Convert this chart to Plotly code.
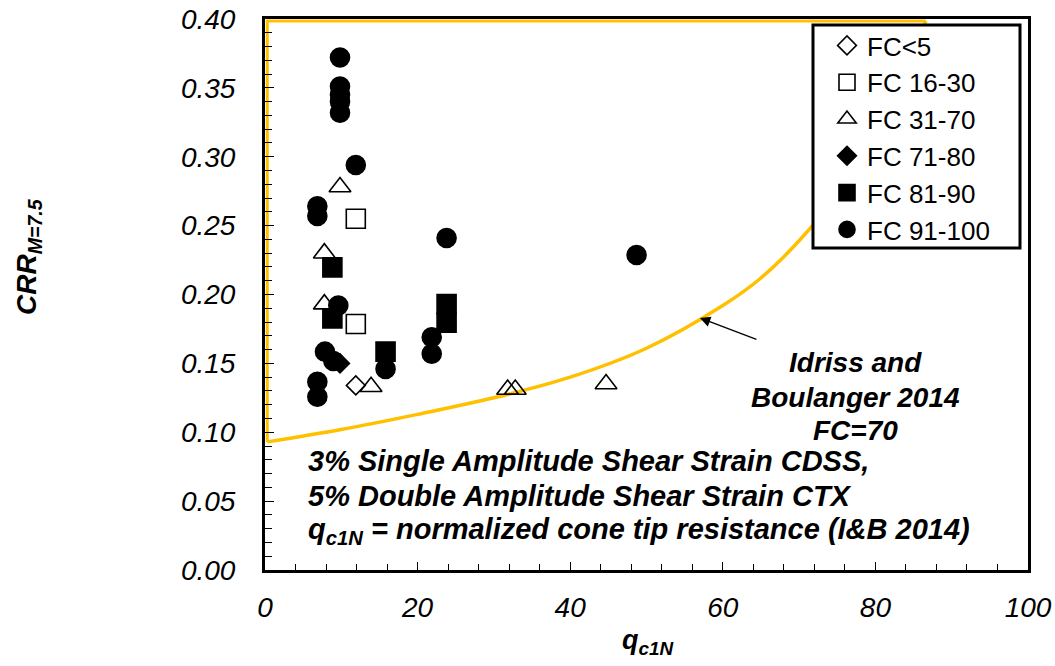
import plotly.graph_objects as go

# ---- data ----
fc_lt5_q = [11.9]
fc_lt5_crr = [0.134]

fc_16_30_q = [11.9, 11.9]
fc_16_30_crr = [0.255, 0.1786]

fc_31_70_q = [9.83, 7.78, 7.78, 13.9, 31.8, 32.8, 44.7]
fc_31_70_crr = [0.278, 0.230, 0.193, 0.133, 0.131, 0.131, 0.135]

fc_71_80_q = [9.83]
fc_71_80_crr = [0.150]

fc_81_90_q = [8.83, 8.83, 15.8, 23.8, 23.8]
fc_81_90_crr = [0.2197, 0.1827, 0.1585, 0.193, 0.1795]

fc_91_100_q = [9.83, 9.83, 9.83, 9.83, 9.83, 11.9, 6.86, 6.86, 23.8, 48.7,
               9.61, 21.85, 21.85, 15.8, 7.86, 8.96, 6.86, 6.86]
fc_91_100_crr = [0.372, 0.351, 0.345, 0.340, 0.332, 0.294, 0.264, 0.257, 0.241, 0.2287,
                 0.192, 0.169, 0.157, 0.146, 0.1585, 0.1517, 0.1367, 0.1258]

# Idriss & Boulanger (2014) FC=70 curve
ib_q = [0.3, 10, 20, 30, 40, 50, 60, 65, 70, 75, 80, 83, 86.6]
ib_crr = [0.093, 0.102, 0.113, 0.125, 0.140, 0.161, 0.192, 0.212, 0.239, 0.273, 0.317, 0.350, 0.3985]

# yellow outline along the left and top edges
edge_q = [86.6, 0.3, 0.3]
edge_crr = [0.3985, 0.3985, 0.093]

yellow = "#FFC000"
FONT = "Liberation Sans, Arial, sans-serif"

fig = go.Figure()

fig.add_trace(go.Scatter(x=edge_q, y=edge_crr, mode="lines",
                         line=dict(color=yellow, width=3), showlegend=False,
                         cliponaxis=False, hoverinfo="skip"))
fig.add_trace(go.Scatter(x=ib_q, y=ib_crr, mode="lines",
                         line=dict(color=yellow, width=3.5, shape="spline"),
                         showlegend=False, cliponaxis=False, hoverinfo="skip"))

series = [
    ("FC<5", fc_lt5_q, fc_lt5_crr, "diamond-open", 14.5),
    ("FC 16-30", fc_16_30_q, fc_16_30_crr, "square-open", 19),
    ("FC 31-70", fc_31_70_q, fc_31_70_crr, "triangle-up-open", 19),
    ("FC 71-80", fc_71_80_q, fc_71_80_crr, "diamond", 14.5),
    ("FC 81-90", fc_81_90_q, fc_81_90_crr, "square", 19),
    ("FC 91-100", fc_91_100_q, fc_91_100_crr, "circle", 19),
]
for i, (name, xs, ys, sym, sz) in enumerate(series):
    fig.add_trace(go.Scatter(
        x=xs, y=ys, mode="markers", name=name, legendgroup=f"g{i}",
        marker=dict(symbol=sym, size=sz, color="black",
                    line=dict(color="black", width=1.6)),
        cliponaxis=False))

def px_x(p):
    return (p - 265) / 763.0

def px_y(p):
    return (570 - p) / 551.0

fig.update_layout(
    width=1055, height=666,
    margin=dict(l=265, r=27, t=19, b=96, autoexpand=False),
    plot_bgcolor="white", paper_bgcolor="white",
    font=dict(family=FONT, color="black"),
    showlegend=True,
    legend=dict(
        x=px_x(827), y=px_y(22), xanchor="left", yanchor="top",
        bgcolor="rgba(0,0,0,0)", borderwidth=0,
        font=dict(family=FONT, size=26, color="black"),
        tracegroupgap=0, itemsizing="trace",
    ),
    xaxis=dict(
        range=[0, 100], dtick=20, tick0=0,
        showgrid=False, zeroline=False,
        showline=True, linecolor="black", linewidth=3, mirror=True,
        ticks="inside", ticklen=8, tickwidth=1.3, tickcolor="black",
        minor=dict(dtick=4, ticks="inside", ticklen=6, tickwidth=1.1, tickcolor="black", showgrid=False),
        tickfont=dict(family=FONT, size=28, style="italic", color="black"),
        ticklabelstandoff=10,
    ),
    yaxis=dict(
        range=[0, 0.40], dtick=0.05, tick0=0, tickformat=".2f",
        showgrid=False, zeroline=False,
        showline=True, linecolor="black", linewidth=3, mirror=True,
        ticks="inside", ticklen=9, tickwidth=1.3, tickcolor="black",
        minor=dict(dtick=0.01, ticks="inside", ticklen=7, tickwidth=1.1, tickcolor="black", showgrid=False),
        tickfont=dict(family=FONT, size=28, style="italic", color="black"),
        ticklabelstandoff=21,
    ),
    shapes=[dict(
        type="rect", xref="paper", yref="paper",
        x0=px_x(813), x1=px_x(1020), y0=px_y(248), y1=px_y(25),
        line=dict(color="black", width=3), fillcolor="white", layer="above",
    )],
)

# axis titles
fig.add_annotation(text="<b><i>q<sub>c1N</sub></i></b>", xref="paper", yref="paper",
                   x=px_x(648), y=px_y(642), showarrow=False,
                   font=dict(family=FONT, size=27, color="black"),
                   xanchor="center", yanchor="middle")
fig.add_annotation(text="<b><i>CRR<sub>M=7.5</sub></i></b>", xref="paper", yref="paper",
                   x=px_x(28), y=px_y(257), showarrow=False, textangle=-90,
                   font=dict(family=FONT, size=28, color="black"),
                   xanchor="center", yanchor="middle")

# curve label and arrow
idriss_lines = ["Idriss and", "Boulanger 2014", "FC=70"]
idriss_y = [363, 397, 430]
for txt, yy in zip(idriss_lines, idriss_y):
    fig.add_annotation(text=f"<b><i>{txt}</i></b>", xref="paper", yref="paper",
                       x=px_x(855), y=px_y(yy), showarrow=False,
                       font=dict(family=FONT, size=28, color="black"),
                       xanchor="center", yanchor="middle")
fig.add_annotation(text="", x=57.0, y=0.183, ax=58, ay=22, axref="pixel", ayref="pixel",
                   showarrow=True, arrowhead=2, arrowsize=1.6, arrowwidth=1.3,
                   arrowcolor="black")

note_lines = ["3% Single Amplitude Shear Strain CDSS,",
              "5% Double Amplitude Shear Strain CTX",
              "q<sub>c1N</sub> = normalized cone tip resistance (I&B 2014)"]
note_y = [461, 496, 531]
for txt, yy in zip(note_lines, note_y):
    fig.add_annotation(text=f"<b><i>{txt}</i></b>", xref="paper", yref="paper",
                       x=px_x(306), y=px_y(yy), showarrow=False, align="left",
                       font=dict(family=FONT, size=29, color="black"),
                       xanchor="left", yanchor="middle")

fig.write_html("out.html")
